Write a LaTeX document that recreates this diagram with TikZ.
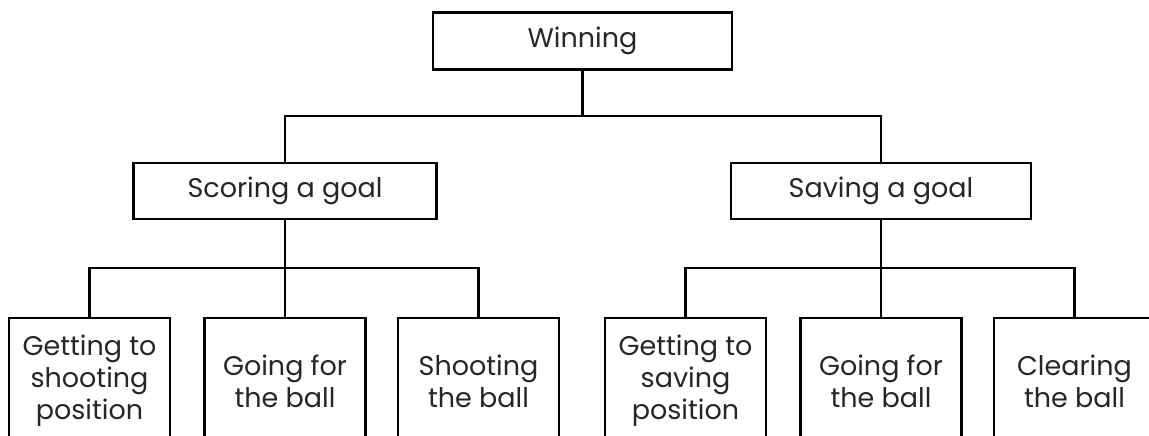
\documentclass[tikz,border=0pt]{standalone}
\usepackage{fontspec}
\setmainfont{Poppins}
\begin{document}
\begin{tikzpicture}[x=1pt,y=-1pt,
  box/.style={draw=black, line width=2.6pt, rectangle, align=center,
    inner sep=0pt, text=black!85,
    font=\fontsize{27}{32}\selectfont},
  link/.style={draw=black, line width=2.6pt}]
\useasboundingbox (0,0) rectangle (1149,436);
\clip (0,0) rectangle (1149,436);

% top level
\node[box, minimum width=299pt, minimum height=57pt] (win) at (582.5,41) {Winning};

% second level
\node[box, minimum width=303pt, minimum height=56pt] (score) at (285,191) {Scoring a goal};
\node[box, minimum width=300pt, minimum height=56pt] (save) at (881,191) {Saving a goal};

% third level
\foreach \n/\x/\t in {
  b1/89.5/{Getting to\\shooting\\position},
  b2/285/{Going for\\the ball},
  b3/478.5/{Shooting\\the ball},
  b4/685.5/{Getting to\\saving\\position},
  b5/881/{Going for\\the ball},
  b6/1074.5/{Clearing\\the ball}}
  \node[box, minimum width=161pt, minimum height=126pt] (\n) at (\x,381) {\t};

% junction points of the branches
\coordinate (j0) at (win.south |- 0,116);
\coordinate (j1) at (score.south |- 0,268);
\coordinate (j2) at (save.south |- 0,268);

% connectors
\draw[link] (win.south) -- (j0);
\draw[link] (score.north) |- (j0) -| (save.north);
\draw[link] (score.south) -- (j1);
\draw[link] (b1.north) |- (j1) -| (b3.north);
\draw[link] (b2.north) -- (j1);
\draw[link] (save.south) -- (j2);
\draw[link] (b4.north) |- (j2) -| (b6.north);
\draw[link] (b5.north) -- (j2);
\end{tikzpicture}
\end{document}
